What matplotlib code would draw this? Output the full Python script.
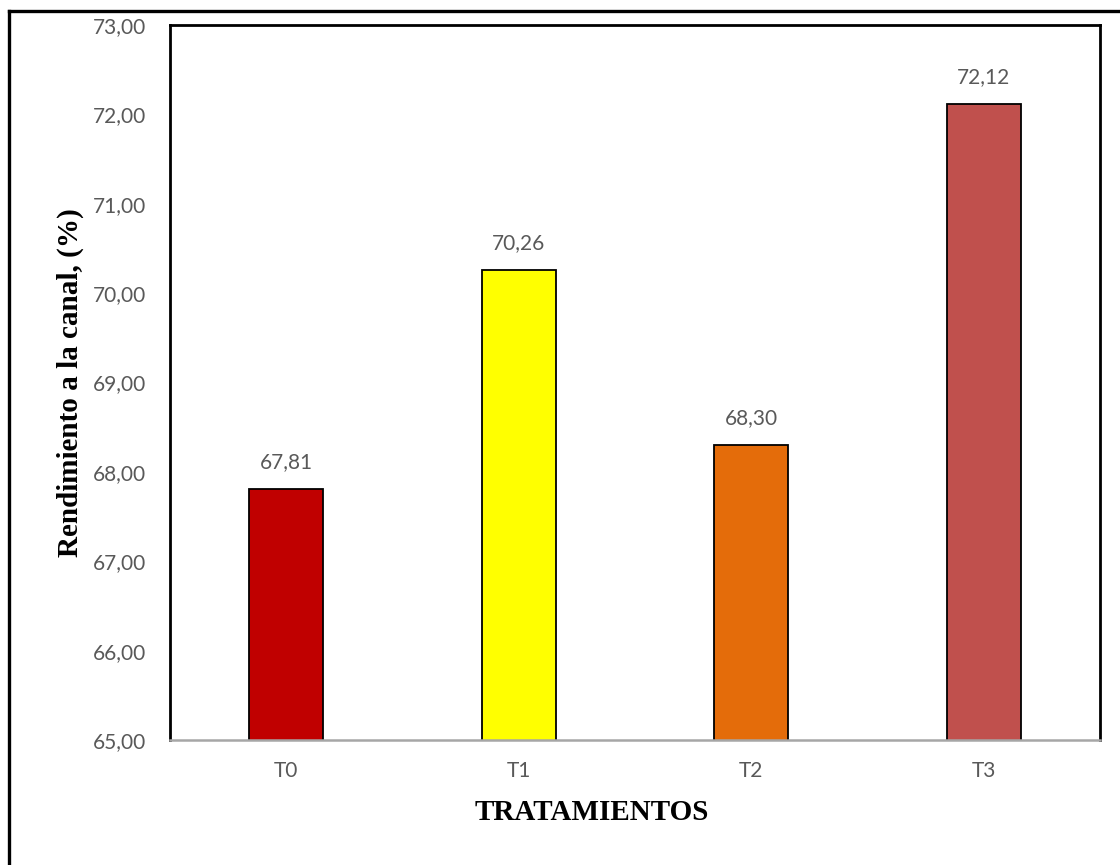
import matplotlib
matplotlib.use("Agg")
import matplotlib.pyplot as plt
from matplotlib.lines import Line2D

categories = ["T0", "T1", "T2", "T3"]
values = [67.81, 70.26, 68.30, 72.12]
bar_colors = ["#C00000", "#FFFF00", "#E46C0A", "#C0504D"]
y_ticks = [65, 66, 67, 68, 69, 70, 71, 72, 73]

W, H = 1120, 865
fig = plt.figure(figsize=(W / 100, H / 100), dpi=100)
ax = fig.add_axes([170 / W, 1 - 740 / H, (1100 - 170) / W, (740 - 25) / H])

gray = "#595959"
tick_font = "Lato"
x = range(len(categories))
ax.bar(x, values, width=0.32, color=bar_colors, edgecolor="black",
       linewidth=1.3, bottom=0)

ax.set_ylim(65, 73)
ax.set_xlim(-0.5, len(categories) - 0.5)
ax.set_yticks(y_ticks)
ax.set_yticklabels([f"{t:.2f}".replace(".", ",") for t in y_ticks],
                   fontsize=15, color=gray, family=tick_font)
ax.set_xticks(list(x))
ax.set_xticklabels(categories, fontsize=15, color=gray, family=tick_font)
ax.tick_params(axis="both", length=0)
ax.tick_params(axis="y", pad=17)
ax.tick_params(axis="x", pad=15)

for xi, v in zip(x, values):
    ax.annotate(f"{v:.2f}".replace(".", ","), (xi, v), xytext=(0, 12),
                textcoords="offset points", ha="center", va="bottom",
                fontsize=15, color=gray, family=tick_font)

for side in ("left", "top", "right"):
    ax.spines[side].set_color("black")
    ax.spines[side].set_linewidth(2.0)
ax.spines["bottom"].set_color("#A6A6A6")
ax.spines["bottom"].set_linewidth(1.8)

ax.set_ylabel("Rendimiento a la canal, (%)", fontsize=21, fontweight="bold",
              family="Liberation Serif")
ax.yaxis.set_label_coords((70 - 170) / 930, 0.5)
ax.set_xlabel("TRATAMIENTOS", fontsize=21, fontweight="bold",
              family="Liberation Serif")
ax.xaxis.set_label_coords((592 - 170) / 930, -(812 - 740) / 715)
ax.xaxis.label.set_va("center")
ax.yaxis.label.set_va("center")

# outer frame of the figure (top and left edges)
fig.add_artist(Line2D([9 / W, 1.0], [1 - 11 / H, 1 - 11 / H], color="black",
                      linewidth=2.4, transform=fig.transFigure))
fig.add_artist(Line2D([9 / W, 9 / W], [0.0, 1 - 11 / H], color="black",
                      linewidth=2.4, transform=fig.transFigure))

fig.savefig("out.png", dpi=100)
